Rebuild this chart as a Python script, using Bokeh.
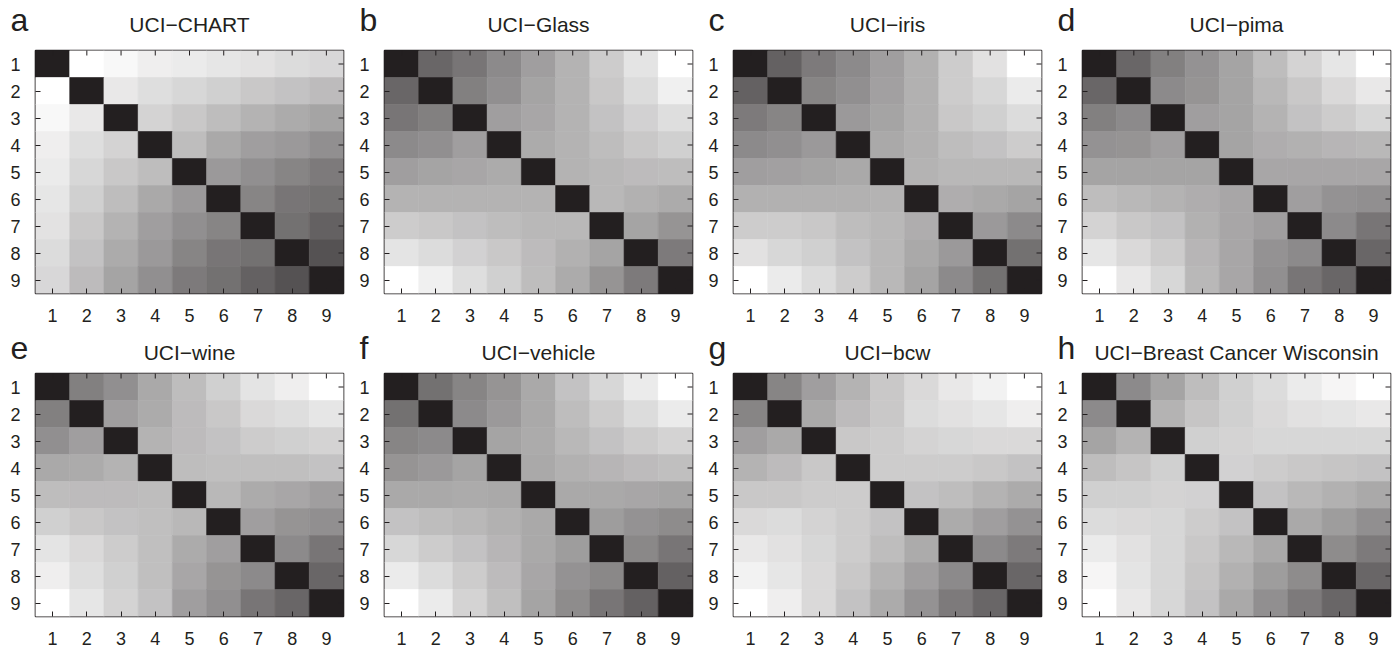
import math
from bokeh.plotting import figure
from bokeh.models import (LinearColorMapper, Range1d, Label,
                          FixedTicker, ColumnDataSource)
from bokeh.layouts import column, row
from bokeh.embed import file_html
from bokeh.resources import INLINE

# ---------------- data ----------------
index = [1, 2, 3, 4, 5, 6, 7, 8, 9]
tick_labels = ["1", "2", "3", "4", "5", "6", "7", "8", "9"]
panel_letters = ["a", "b", "c", "d", "e", "f", "g", "h"]
panel_titles = ["UCI\u2212CHART", "UCI\u2212Glass", "UCI\u2212iris", "UCI\u2212pima",
                "UCI\u2212wine", "UCI\u2212vehicle", "UCI\u2212bcw",
                "UCI\u2212Breast Cancer Wisconsin"]
diag_level = 35  # gray level of the diagonal cells

# upper triangle (row i, columns i+1..9), gray levels
chart_upper = [
    [255, 248, 238, 235, 230, 226, 220, 216],
    [232, 222, 215, 208, 200, 195, 188],
    [212, 200, 190, 180, 172, 165],
    [190, 170, 160, 155, 145],
    [155, 145, 135, 125],
    [135, 120, 115],
    [115, 100],
    [85],
]
glass_upper = [
    [105, 120, 140, 160, 180, 205, 228, 255],
    [130, 145, 165, 180, 200, 220, 240],
    [160, 168, 180, 195, 210, 222],
    [172, 180, 190, 200, 208],
    [180, 185, 188, 190],
    [185, 178, 172],
    [165, 150],
    [125],
]
iris_upper = [
    [100, 125, 140, 160, 178, 205, 225, 255],
    [135, 145, 162, 178, 205, 215, 235],
    [155, 165, 178, 200, 208, 220],
    [170, 178, 190, 195, 205],
    [180, 185, 185, 185],
    [175, 170, 165],
    [155, 140],
    [115],
]
pima_upper = [
    [105, 130, 148, 165, 190, 212, 230, 255],
    [140, 150, 165, 185, 200, 218, 232],
    [160, 165, 180, 195, 205, 215],
    [165, 175, 178, 182, 185],
    [168, 168, 168, 168],
    [160, 148, 145],
    [140, 120],
    [105],
]
wine_upper = [
    [130, 145, 170, 190, 208, 228, 238, 255],
    [160, 172, 188, 200, 218, 222, 230],
    [180, 188, 195, 205, 208, 212],
    [190, 192, 192, 192, 195],
    [185, 172, 168, 160],
    [160, 150, 145],
    [140, 120],
    [105],
]
vehicle_upper = [
    [115, 135, 150, 170, 195, 215, 235, 255],
    [140, 155, 170, 190, 205, 220, 235],
    [165, 172, 185, 195, 205, 212],
    [170, 178, 182, 188, 192],
    [170, 170, 168, 165],
    [158, 148, 142],
    [138, 120],
    [100],
]
bcw_upper = [
    [135, 160, 180, 200, 218, 232, 242, 255],
    [170, 188, 200, 220, 225, 230, 238],
    [200, 205, 212, 215, 218, 218],
    [205, 205, 205, 200, 195],
    [195, 190, 180, 172],
    [172, 160, 148],
    [140, 125],
    [105],
]
bcwisc_upper = [
    [140, 165, 190, 208, 220, 235, 245, 255],
    [180, 198, 208, 218, 225, 228, 232],
    [208, 212, 215, 215, 215, 215],
    [210, 205, 200, 198, 195],
    [195, 185, 178, 170],
    [170, 158, 145],
    [142, 125],
    [105],
]
panel_data = [chart_upper, glass_upper, iris_upper, pima_upper,
              wine_upper, vehicle_upper, bcw_upper, bcwisc_upper]

# ---------------- styling ----------------
FONT = "Liberation Sans"
INK = "#231f20"
dark = (35, 31, 32)
palette = []
for k in range(256):
    t = k / 255.0
    palette.append("#%02x%02x%02x" % tuple(round(c + (255 - c) * t) for c in dark))
mapper = LinearColorMapper(palette=palette, low=35, high=255)

FIG_W = 349
LEFT = 35
FRAME_W = 308
X_LO, X_HI = 0.5, 9.5
Y_TOP, Y_BOT = 0.5, 9.5


def no_frame_align(fig):
    try:
        fig.frame_align = False
    except Exception:
        pass


def full_matrix(upper):
    n = len(index)
    m = [[diag_level] * n for _ in range(n)]
    for i in range(n - 1):
        for k, val in enumerate(upper[i]):
            j = i + 1 + k
            m[i][j] = val
            m[j][i] = val
    return m


def style_axis(ax):
    ax.ticker = FixedTicker(ticks=index)
    ax.major_label_overrides = {i: s for i, s in zip(index, tick_labels)}
    ax.major_tick_in = 5
    ax.major_tick_out = 0
    ax.major_tick_line_color = INK
    ax.major_tick_line_width = 1
    ax.minor_tick_line_color = None
    ax.axis_line_color = None
    ax.major_label_text_font = FONT
    ax.major_label_text_font_size = "18px"
    ax.major_label_text_color = INK
    ax.major_label_standoff = 15


def make_header(k, height, letter_y, title_y):
    h = figure(width=FIG_W, height=height, x_range=Range1d(0, FIG_W),
               y_range=Range1d(0, height), x_axis_type=None, y_axis_type=None,
               min_border=0, toolbar_location=None, output_backend="svg",
               background_fill_color="white", border_fill_color="white")
    no_frame_align(h)
    h.outline_line_color = None
    h.grid.visible = False
    h.add_layout(Label(x=LEFT - 25, y=letter_y,
                       text=panel_letters[k], text_font=FONT, text_font_size="32px",
                       text_color=INK, text_align="left", text_baseline="alphabetic"))
    h.add_layout(Label(x=LEFT + FRAME_W / 2, y=title_y,
                       text=panel_titles[k], text_font=FONT, text_font_size="21px",
                       text_color=INK, text_align="center", text_baseline="alphabetic"))
    return h


def make_heatmap(k, height, bottom):
    m = full_matrix(panel_data[k])
    xs, ys, vs = [], [], []
    for i in range(len(index)):
        for j in range(len(index)):
            xs.append(index[j])
            ys.append(index[i])
            vs.append(m[i][j])
    src = ColumnDataSource(dict(x=xs, y=ys, v=vs))
    p = figure(width=FIG_W, height=height,
               x_range=Range1d(X_LO, X_HI), y_range=Range1d(Y_BOT, Y_TOP),
               min_border_left=LEFT, min_border_right=FIG_W - LEFT - FRAME_W,
               min_border_top=2, min_border_bottom=bottom,
               toolbar_location=None, output_backend="svg",
               background_fill_color="white", border_fill_color="white")
    no_frame_align(p)
    p.rect(x="x", y="y", width=1, height=1, source=src,
           fill_color={"field": "v", "transform": mapper},
           line_color={"field": "v", "transform": mapper}, line_width=0.6)
    # inward ticks on the top and right edges (clipped to the frame)
    p.scatter(x=index, y=[Y_TOP] * len(index), marker="dash", angle=math.pi / 2,
              size=10, line_color=INK, line_width=1)
    p.scatter(x=[X_HI] * len(index), y=index, marker="dash",
              size=10, line_color=INK, line_width=1)
    p.grid.visible = False
    style_axis(p.xaxis[0])
    style_axis(p.yaxis[0])
    p.outline_line_color = INK
    p.outline_line_width = 1.6
    return p


def make_panel(k, head_h, letter_y, title_y, heat_h, bottom):
    return column(make_header(k, head_h, letter_y, title_y),
                  make_heatmap(k, heat_h, bottom), spacing=0)


row1 = [make_panel(k, 48, 29, 24, 280, 35) for k in range(4)]
row2 = [make_panel(k, 43, 24, 19, 279, 34) for k in range(4, 8)]
layout = column(row(*row1, spacing=0), row(*row2, spacing=0), spacing=0)

open("out.html", "w").write(file_html(layout, INLINE))
